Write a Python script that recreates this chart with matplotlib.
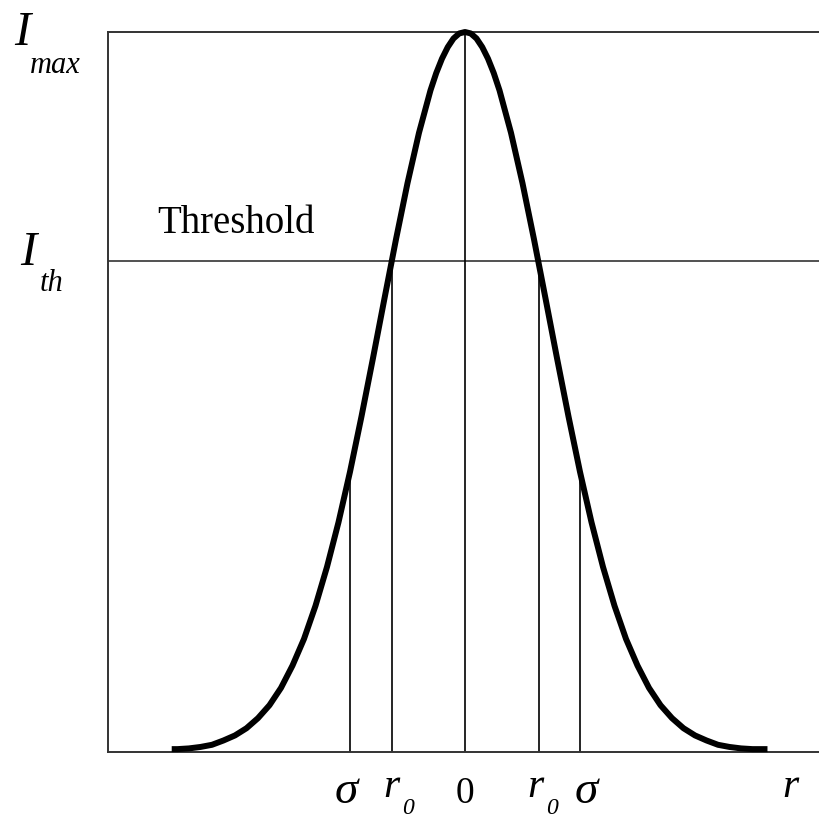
import matplotlib
matplotlib.use('Agg')
import matplotlib.pyplot as plt

# ── DATA ─────────────────────────────────────────────────────────────────────
# radius in units of sigma, intensity relative to I_max
r_vals = [-2.55, -2.5, -2.4, -2.3, -2.2, -2.1, -2.0, -1.9, -1.8, -1.7, -1.6,
          -1.5, -1.4, -1.3, -1.2, -1.1, -1.0, -0.9, -0.8, -0.7, -0.6, -0.5,
          -0.4, -0.3, -0.25, -0.2, -0.15, -0.1, -0.05, 0.0, 0.05, 0.1, 0.15,
          0.2, 0.25, 0.3, 0.4, 0.5, 0.6, 0.7, 0.8, 0.9, 1.0, 1.1, 1.2, 1.3,
          1.4, 1.5, 1.6, 1.7, 1.8, 1.9, 2.0, 2.1, 2.2, 2.3, 2.4, 2.5, 2.63]
intensity = [0.004, 0.004, 0.005, 0.007, 0.010, 0.016, 0.023, 0.033, 0.047,
             0.065, 0.089, 0.120, 0.157, 0.203, 0.257, 0.319, 0.389, 0.466,
             0.547, 0.630, 0.712, 0.790, 0.860, 0.919, 0.943, 0.963, 0.979,
             0.991, 0.998, 1.000, 0.998, 0.991, 0.979, 0.963, 0.943, 0.919,
             0.860, 0.790, 0.712, 0.630, 0.547, 0.466, 0.389, 0.319, 0.257,
             0.203, 0.157, 0.120, 0.089, 0.065, 0.047, 0.033, 0.023, 0.016,
             0.010, 0.007, 0.005, 0.004, 0.004]

threshold = 0.682
# vertical markers: position (sigma units) and how high they reach
marker_r = [-1.0, -0.635, 0.0, 0.645, 1.0]
marker_top = [0.389, 0.682, 1.0, 0.682, 0.389]

W, H = 819, 820


def px(x, y):
    """pixel position (from top-left) -> figure fraction"""
    return x / W, 1 - y / H


# ── FIGURE ───────────────────────────────────────────────────────────────────
fig = plt.figure(figsize=(W / 100, H / 100), dpi=100)
ax = fig.add_axes([108 / W, 67 / H, 711 / W, 720 / H])
ax.set_xlim(-3.104, 3.078)
ax.set_ylim(0, 1)

for side in ['left', 'bottom', 'top']:
    ax.spines[side].set_linewidth(1.4)
    ax.spines[side].set_color('#333333')
ax.spines['right'].set_visible(False)
ax.set_xticks([])
ax.set_yticks([])

ax.axhline(threshold, color='#333333', linewidth=1.2)
ax.vlines(marker_r, 0, marker_top, color='black', linewidth=1.2)
ax.plot(r_vals, intensity, color='black', linewidth=4.3,
        solid_capstyle='butt', solid_joinstyle='round', clip_on=False, zorder=5)

# ── LABELS ───────────────────────────────────────────────────────────────────
serif = 'Liberation Serif'
ital = dict(family=serif, style='italic', va='baseline')

fig.text(*px(14, 45), 'I', fontsize=35, ha='left', **ital)
fig.text(*px(30, 73), 'max', fontsize=22, ha='left', **ital)
fig.text(*px(20, 265), 'I', fontsize=35, ha='left', **ital)
fig.text(*px(40, 291), 'th', fontsize=22, ha='left', **ital)

fig.text(*px(157, 233), 'Threshold', fontsize=28, family=serif,
         ha='left', va='baseline')

sub = dict(family=serif, style='italic', va='bottom', ha='center', fontsize=17)

fig.text(*px(346, 803), 'σ', fontsize=34, ha='center', **ital)
fig.text(*px(391, 797), 'r', fontsize=30, ha='center', **ital)
fig.text(*px(408, 819), '0', **sub)
fig.text(*px(465, 803), '0', fontsize=27, family=serif,
         ha='center', va='baseline')
fig.text(*px(535, 797), 'r', fontsize=30, ha='center', **ital)
fig.text(*px(552, 819), '0', **sub)
fig.text(*px(586, 803), 'σ', fontsize=34, ha='center', **ital)
fig.text(*px(790, 797), 'r', fontsize=30, ha='center', **ital)

plt.savefig('out.png', dpi=100)
plt.close()
